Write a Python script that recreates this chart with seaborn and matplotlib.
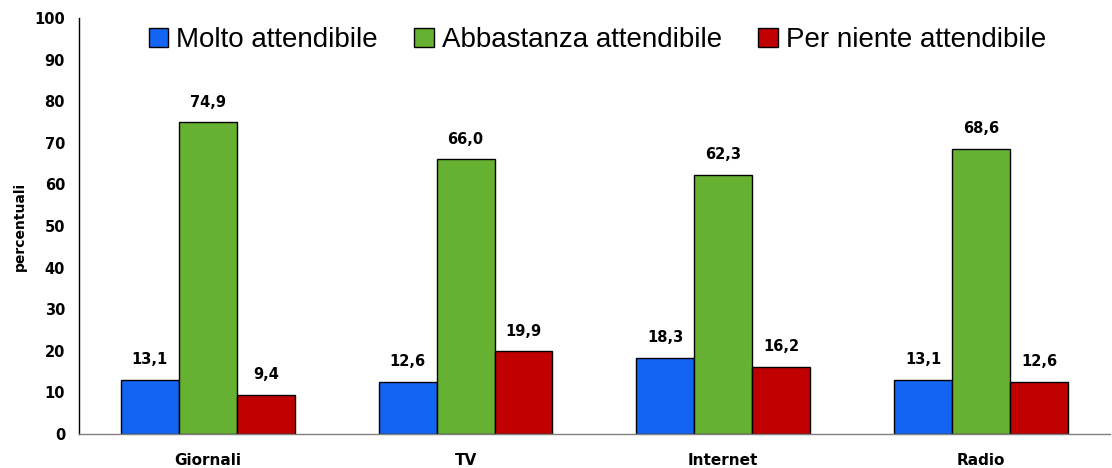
import matplotlib.pyplot as plt
import seaborn as sns
import pandas as pd

sns.set_theme(style="white")
plt.rcParams['text.color'] = 'black'
plt.rcParams['axes.labelcolor'] = 'black'
plt.rcParams['xtick.color'] = 'black'
plt.rcParams['ytick.color'] = 'black'

# --- data ---
media = ['Giornali', 'TV', 'Internet', 'Radio']
series = ['Molto attendibile', 'Abbastanza attendibile', 'Per niente attendibile']
molto = [13.1, 12.6, 18.3, 13.1]
abbastanza = [74.9, 66.0, 62.3, 68.6]
per_niente = [9.4, 19.9, 16.2, 12.6]
colors = ['#1464F4', '#66B032', '#C00000']

df = pd.DataFrame({
    'Media': media * 3,
    'Giudizio': [s for s in series for _ in media],
    'Valore': molto + abbastanza + per_niente,
})

fig = plt.figure(figsize=(11.12, 4.68), dpi=100)
ax = fig.add_axes([0.071, 0.0726, 0.927, 0.889])

sns.barplot(data=df, x='Media', y='Valore', hue='Giudizio', order=media,
            hue_order=series, palette=colors, width=0.675, saturation=1,
            edgecolor='black', linewidth=1, ax=ax)

# value labels with comma decimals
for cont in ax.containers:
    labels = [f"{v:.1f}".replace('.', ',') for v in cont.datavalues]
    ax.bar_label(cont, labels=labels, padding=9, fontsize=10.5,
                 fontweight='bold', family='DejaVu Sans', color='black')

ax.set_ylim(0, 100)
ax.set_yticks(range(0, 101, 10))
ax.set_xlim(-0.5, 3.5)
ax.set_xlabel('')
ax.set_ylabel('percentuali', fontsize=10, fontweight='bold')
ax.yaxis.set_label_coords(-0.051, 0.5)
ax.tick_params(axis='both', length=0)
ax.tick_params(axis='y', pad=10, labelsize=10.5)
ax.tick_params(axis='x', pad=14, labelsize=11)
for lbl in ax.get_xticklabels() + ax.get_yticklabels():
    lbl.set_fontweight('bold')

for s in ['top', 'right']:
    ax.spines[s].set_visible(False)
ax.spines['left'].set_color('black')
ax.spines['left'].set_linewidth(1)
ax.spines['bottom'].set_color('#808080')
ax.spines['bottom'].set_linewidth(1)

ax.legend(loc='center', bbox_to_anchor=(0.503, 0.947), ncol=3, frameon=False,
          prop={'family': 'Liberation Sans', 'size': 20}, handlelength=0.7,
          handleheight=0.7, handletextpad=0.3, columnspacing=1.3, borderaxespad=0)

fig.savefig('out.png', dpi=100)
